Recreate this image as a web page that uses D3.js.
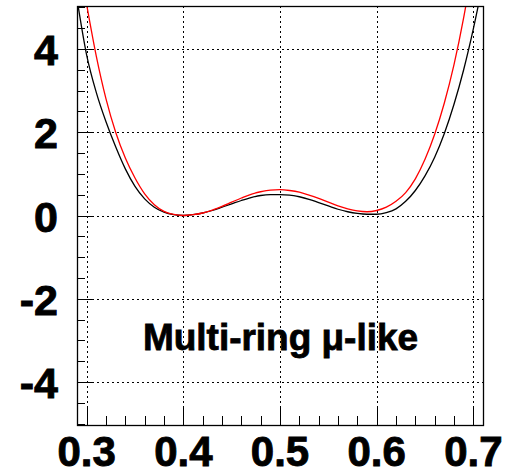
<!DOCTYPE html>
<html>
<head>
<meta charset="utf-8">
<script src="https://cdn.jsdelivr.net/npm/d3@7"></script>
<style>
  body { margin: 0; background: #fff; }
  svg text { font-family: "Liberation Sans", Arial, Helvetica, sans-serif; font-weight: bold; }
</style>
</head>
<body>
<svg id="chart" width="516" height="473"></svg>
<script>
// values
var xVals =     [0.29, 0.30, 0.31, 0.32, 0.33, 0.34, 0.35, 0.36, 0.37, 0.38, 0.39, 0.40, 0.41, 0.42, 0.43, 0.44, 0.45, 0.46, 0.47, 0.48, 0.49, 0.50, 0.51, 0.52, 0.53, 0.54, 0.55, 0.56, 0.57, 0.58, 0.59, 0.60, 0.61, 0.62, 0.63, 0.64, 0.65, 0.66, 0.67, 0.68, 0.69, 0.70, 0.71];
var blackVals = [5.20, 3.85, 2.95, 2.25, 1.65, 1.12, 0.70, 0.40, 0.20, 0.08, 0.02, 0.00, 0.02, 0.06, 0.12, 0.20, 0.28, 0.36, 0.43, 0.48, 0.50, 0.50, 0.49, 0.45, 0.39, 0.31, 0.23, 0.15, 0.09, 0.05, 0.03, 0.03, 0.07, 0.16, 0.34, 0.60, 0.95, 1.40, 1.97, 2.67, 3.50, 4.48, 5.60];
var redVals =   [6.40, 5.06, 3.82, 2.80, 2.00, 1.38, 0.90, 0.52, 0.26, 0.10, 0.025, 0.00, 0.02, 0.06, 0.13, 0.22, 0.32, 0.42, 0.51, 0.57, 0.61, 0.62, 0.60, 0.56, 0.49, 0.41, 0.32, 0.23, 0.16, 0.11, 0.09, 0.12, 0.20, 0.34, 0.55, 0.88, 1.35, 1.95, 2.70, 3.62, 4.75, 6.10, 7.60];
var xTicks = [0.3, 0.4, 0.5, 0.6, 0.7];
var yTicks = [-4, -2, 0, 2, 4];
var label = "Multi-ring \u03bc-like";

var svg = d3.select("#chart"),
  frame = {left: 77, right: 483, top: 6, bottom: 425};

var x = d3.scaleLinear().domain([0.29, 0.71]).range([frame.left, frame.right]);
var y = d3.scaleLinear().domain([-5.03, 5.03]).range([frame.bottom, frame.top]);

svg.append("clipPath").attr("id", "frameclip")
  .append("rect").attr("x", frame.left).attr("y", frame.top)
  .attr("width", frame.right - frame.left).attr("height", frame.bottom - frame.top);

// grid
var grid = svg.append("g").attr("stroke", "#000").attr("stroke-width", 1)
  .attr("stroke-dasharray", "2,3").attr("shape-rendering", "crispEdges");
grid.selectAll("line.gx").data(xTicks).enter().append("line")
  .attr("x1", function(d) {return Math.round(x(d)) + 0.5})
  .attr("x2", function(d) {return Math.round(x(d)) + 0.5})
  .attr("y1", frame.top).attr("y2", frame.bottom);
grid.selectAll("line.gy").data(yTicks).enter().append("line")
  .attr("y1", function(d) {return Math.round(y(d)) + 0.5})
  .attr("y2", function(d) {return Math.round(y(d)) + 0.5})
  .attr("x1", frame.left).attr("x2", frame.right);

// axes, ticks pointing inside the frame
var xaxis = d3.axisBottom(x).tickValues(d3.range(0.3, 0.7001, 0.02))
  .tickSize(-9).tickFormat("");
var yaxis = d3.axisLeft(y).tickValues(d3.range(-5, 5.001, 0.5))
  .tickSize(-8).tickFormat("");

var gx = svg.append("g").attr("transform", "translate(0," + frame.bottom + ")").call(xaxis);
var gy = svg.append("g").attr("transform", "translate(" + frame.left + ",0)").call(yaxis);
gx.select(".domain").remove();
gy.select(".domain").remove();
gx.selectAll(".tick line").filter(function(d) {return Math.abs(d * 10 - Math.round(d * 10)) < 1e-6})
  .attr("y2", -17);
gy.selectAll(".tick line").filter(function(d) {return Math.abs(d / 2 - Math.round(d / 2)) < 1e-6})
  .attr("x2", 16);
svg.selectAll(".tick line").attr("stroke", "#000").attr("shape-rendering", "crispEdges");

// tick labels (a thin stroke makes them as heavy as the original)
svg.append("g").selectAll("text").data(xTicks).enter().append("text")
  .attr("x", function(d) {return x(d)})
  .attr("y", 466)
  .attr("text-anchor", "middle")
  .attr("font-size", 42)
  .attr("stroke", "#000").attr("stroke-width", 0.9)
  .text(function(d) {return d3.format(".1f")(d)});
svg.append("g").selectAll("text").data(yTicks).enter().append("text")
  .attr("x", 58)
  .attr("y", function(d) {return y(d) + 16})
  .attr("text-anchor", "end")
  .attr("font-size", 43)
  .attr("stroke", "#000").attr("stroke-width", 0.9)
  .text(function(d) {return d});

// curves
var line = d3.line()
  .x(function(d) {return x(d[0])})
  .y(function(d) {return y(d[1])})
  .curve(d3.curveMonotoneX);

var curves = svg.append("g").attr("clip-path", "url(#frameclip)");
curves.append("path")
  .datum(d3.zip(xVals, blackVals))
  .attr("fill", "none").attr("stroke", "#000").attr("stroke-width", 1.3)
  .attr("d", line);
curves.append("path")
  .datum(d3.zip(xVals, redVals))
  .attr("fill", "none").attr("stroke", "#ff0000").attr("stroke-width", 1.3)
  .attr("d", line);

// frame
svg.append("rect").attr("x", frame.left + 0.5).attr("y", frame.top + 0.5)
  .attr("width", frame.right - frame.left).attr("height", frame.bottom - frame.top)
  .attr("fill", "none").attr("stroke", "#000").attr("stroke-width", 1.3);

svg.append("text")
  .attr("x", 143).attr("y", 350)
  .attr("font-size", 37)
  .attr("textLength", 275)
  .attr("stroke", "#000").attr("stroke-width", 0.8)
  .text(label);
</script>
</body>
</html>
